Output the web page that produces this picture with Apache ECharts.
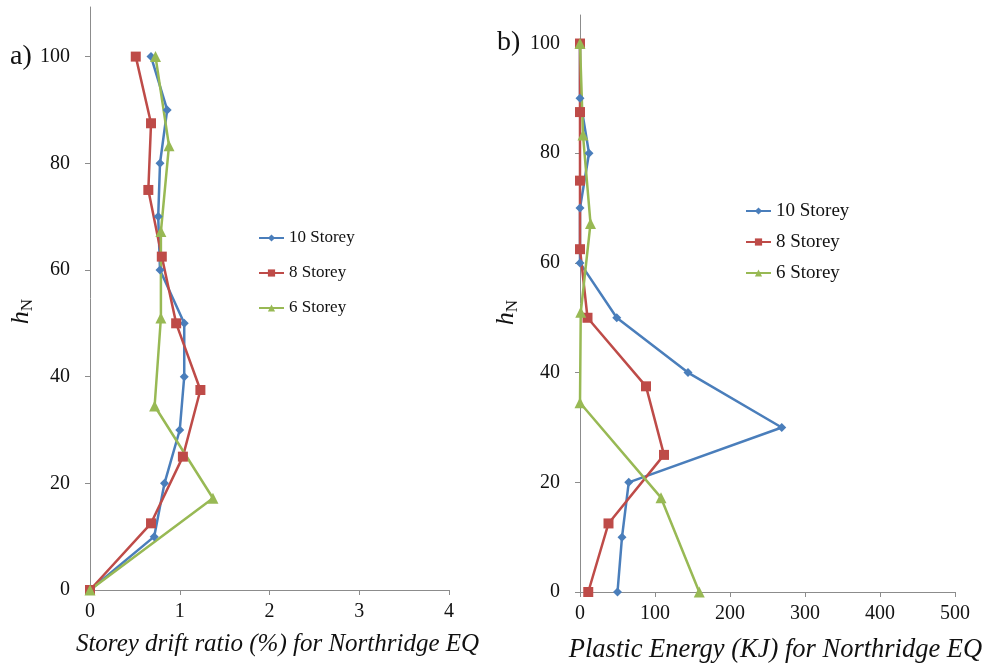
<!DOCTYPE html>
<html>
<head>
<meta charset="utf-8">
<script src="https://cdn.jsdelivr.net/npm/echarts@6/dist/echarts.min.js"></script>
<style>
html,body{margin:0;padding:0;background:#fff;}
#chart{width:991px;height:664px;}
</style>
</head>
<body>
<div id="chart"></div>
<script>
// ---- data ----
const seriesNames = ['10 Storey', '8 Storey', '6 Storey'];
const heights10 = [0, 10, 20, 30, 40, 50, 60, 70, 80, 90, 100];
const heights8 = [0, 12.5, 25, 37.5, 50, 62.5, 75, 87.5, 100];
const heights6 = [0, 17.2, 34.5, 51, 67.2, 83.3, 100];
const drift10 = [0, 0.715, 0.83, 1.0, 1.05, 1.05, 0.78, 0.76, 0.78, 0.86, 0.68];
const drift8 = [0, 0.68, 1.035, 1.23, 0.96, 0.80, 0.65, 0.68, 0.51];
const drift6 = [0, 1.37, 0.72, 0.79, 0.79, 0.88, 0.73];
const energy10 = [50, 56, 65, 269, 144, 49, 0, 0, 12, 0, 0];
const energy8 = [11, 38, 112, 88, 10, 0, 0, 0, 0];
const energy6 = [159, 108, 0, 1, 14, 4, 0];
const yTicks = [0, 20, 40, 60, 80, 100];
const driftTicks = [0, 1, 2, 3, 4];
const energyTicks = [0, 100, 200, 300, 400, 500];
const xTitleA = 'Storey drift ratio (%) for Northridge EQ';
const xTitleB = 'Plastic Energy (KJ) for Northridge EQ';

const colors = ['#4a7ebb', '#be4b48', '#98b954'];
const symbols = ['diamond', 'rect', 'triangle'];
const symbolSizes = [9, 10, 11];
const FONT = 'Liberation Serif';

function pairs(xs, ys) { return xs.map((x, i) => [x, ys[i]]); }

const chart = echarts.init(document.getElementById('chart'));

const axisLineStyle = { lineStyle: { color: '#8c8c8c', width: 1 } };
const tickStyle = { lineStyle: { color: '#8c8c8c', width: 1 }, length: 5, inside: false };
const labelStyle = { color: '#111', fontFamily: FONT, fontSize: 20 };

function yAxis(gridIndex, max, gap, shift) {
  return {
    type: 'value', gridIndex, min: 0, max,
    axisLine: { show: true, ...axisLineStyle },
    axisTick: { show: true, ...tickStyle, customValues: yTicks },
    axisLabel: { ...labelStyle, margin: 20, customValues: yTicks },
    splitLine: { show: false },
    name: '{h|h}{n|N}',
    nameLocation: 'middle',
    nameRotate: 90,
    nameGap: gap,
    nameTextStyle: {
      color: '#111',
      padding: [0, shift, 0, 0],
      rich: {
        h: { fontFamily: FONT, fontStyle: 'italic', fontSize: 26, lineHeight: 30, color: '#111' },
        n: { fontFamily: FONT, fontSize: 17, lineHeight: 14, verticalAlign: 'bottom', color: '#111' }
      }
    }
  };
}

function xAxis(gridIndex, max, ticks, title, gap, size, pad) {
  return {
    type: 'value', gridIndex, min: 0, max,
    axisLine: { show: true, onZero: false, ...axisLineStyle },
    axisTick: { show: true, ...tickStyle, customValues: ticks },
    axisLabel: { ...labelStyle, margin: 12, customValues: ticks },
    splitLine: { show: false },
    name: title,
    nameLocation: 'middle',
    nameGap: gap,
    nameTextStyle: { fontFamily: FONT, fontStyle: 'italic', fontSize: size, color: '#111', padding: [0, 0, 0, pad] }
  };
}

function lineSeries(i, xIdx, xs, ys) {
  return {
    type: 'line', name: seriesNames[i], xAxisIndex: xIdx, yAxisIndex: xIdx,
    data: pairs(xs, ys),
    symbol: symbols[i], symbolSize: symbolSizes[i],
    lineStyle: { color: colors[i], width: 2.5 },
    itemStyle: { color: colors[i] },
    clip: false
  };
}

chart.setOption({
  animation: false,
  backgroundColor: '#fff',
  grid: [
    { left: 90, right: 542, top: 7, bottom: 74, containLabel: false, outerBoundsMode: 'none' },
    { left: 580, right: 36, top: 15, bottom: 72, containLabel: false, outerBoundsMode: 'none' }
  ],
  xAxis: [
    xAxis(0, 4, driftTicks, xTitleA, 42, 25, 16),
    xAxis(1, 500, energyTicks, xTitleB, 45, 26.5, 16)
  ],
  yAxis: [
    yAxis(0, 109.3, 50, 26),
    yAxis(1, 105.2, 59, 18)
  ],
  legend: [
    {
      orient: 'vertical', left: 253, top: 223, itemGap: 15, itemWidth: 25, itemHeight: 9, itemTextGap: 2,
      data: seriesNames,
      textStyle: { fontFamily: FONT, fontSize: 17, color: '#111', lineHeight: 20 }
    },
    {
      orient: 'vertical', left: 740, top: 196, itemGap: 11, itemWidth: 25, itemHeight: 9, itemTextGap: 2,
      data: seriesNames,
      textStyle: { fontFamily: FONT, fontSize: 19, color: '#111', lineHeight: 20 }
    }
  ],
  graphic: [
    { type: 'text', left: 10, top: 43, style: { text: 'a)', fontFamily: FONT, fontSize: 28, fill: '#111' } },
    { type: 'text', left: 497, top: 29, style: { text: 'b)', fontFamily: FONT, fontSize: 28, fill: '#111' } }
  ],
  series: [
    lineSeries(0, 0, drift10, heights10),
    lineSeries(1, 0, drift8, heights8),
    lineSeries(2, 0, drift6, heights6),
    lineSeries(0, 1, energy10, heights10),
    lineSeries(1, 1, energy8, heights8),
    lineSeries(2, 1, energy6, heights6)
  ]
});
</script>
</body>
</html>
